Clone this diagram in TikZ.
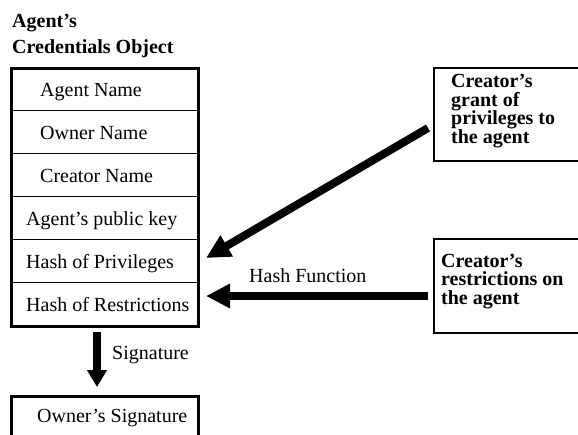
\documentclass[tikz,border=0pt]{standalone}
\usepackage{fontspec}
\setmainfont{Liberation Serif}
\usetikzlibrary{arrows.meta}
\begin{document}
\begin{tikzpicture}[x=1pt,y=-1pt,
  lbl/.style={anchor=base west, inner sep=0pt, font=\fontsize{20}{22}\selectfont},
  blbl/.style={anchor=base west, inner sep=0pt, align=left},
  cell/.style={draw, line width=0.9pt, anchor=north west, minimum width=187pt, minimum height=43pt, inner sep=0pt},
  framebox/.style={draw, line width=2.6pt, anchor=north west, inner sep=0pt},
  sidebox/.style={draw, line width=1.8pt, anchor=north west, inner sep=0pt, minimum width=170pt, minimum height=93pt},
  fat/.style={line width=8pt, -{Triangle[length=24pt,width=23pt]}},
]
\useasboundingbox (0,0) rectangle (578,434);

% title (base anchor = baseline of last line)
\node[blbl, font=\fontsize{20}{26}\selectfont\bfseries] (title) at (12,53) {Agent’s\\Credentials Object};

% credentials object rows
\node[cell] (r1) at (10,67) {};
\node[cell] (r2) at (10,110) {};
\node[cell] (r3) at (10,153) {};
\node[cell] (r4) at (10,196) {};
\node[cell] (r5) at (10,239) {};
\node[cell] (r6) at (10,282) {};
\node[framebox, minimum width=187pt, minimum height=258pt] (cred) at (10,67) {};

\node[lbl] (t1) at (40,96) {Agent Name};
\node[lbl] (t2) at (40,139) {Owner Name};
\node[lbl] (t3) at (40,182) {Creator Name};
\node[lbl] (t4) at (26,225) {Agent’s public key};
\node[lbl] (t5) at (26,268) {Hash of Privileges};
\node[lbl] (t6) at (26,311) {Hash of Restrictions};

% owner's signature box (cut off at bottom)
\node[framebox, minimum width=187pt, minimum height=60pt] (sig) at (10,395) {};
\node[lbl] (sigt) at (37,422) {Owner’s Signature};

% signature arrow
\coordinate (s1) at (97,332);
\coordinate (s2) at (97,387);
\draw[line width=8pt, -{Triangle[length=17pt,width=19pt]}] (s1) -- (s2);
\node[lbl] (sigl) at (112,359) {Signature};

% right boxes
\node[sidebox] (grant) at (433,67) {};
\node[blbl, font=\fontsize{20}{18.5}\selectfont\bfseries] (grantt) at (451,143) {Creator’s\\grant of\\privileges to\\the agent};

\node[sidebox, minimum height=94pt] (restr) at (433,238) {};
\node[blbl, font=\fontsize{20}{18.5}\selectfont\bfseries] (restrt) at (441,304) {Creator’s\\restrictions on\\the agent};

% arrows
\coordinate (a1s) at (428,128);
\coordinate (a1e) at (206,258);
\draw[fat] (a1s) -- (a1e);

\coordinate (a2s) at (428,296);
\coordinate (a2e) at (206,296);
\draw[fat] (a2s) -- (a2e);
\node[lbl] (hash) at (249,282) {Hash Function};
\end{tikzpicture}
\end{document}
